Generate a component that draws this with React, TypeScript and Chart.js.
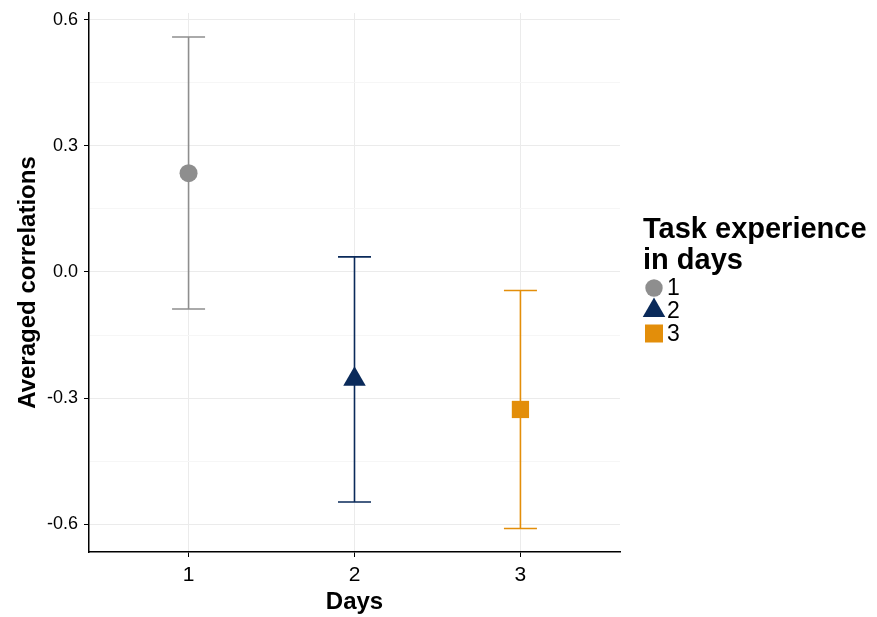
import React, { useEffect, useRef } from "react";
import { Chart, registerables } from "chart.js";

Chart.register(...registerables);

const DAYS = [1, 2, 3];
const DAY_LABELS = ["1", "2", "3"];
const MEANS = [0.235, -0.255, -0.327];
const LOWER = [-0.088, -0.547, -0.61];
const UPPER = [0.559, 0.036, -0.044];
const COLORS = ["#8E8E8E", "#0A2A5A", "#E38E0A"];
const SHAPES = ["circle", "triangle", "rect"];
const RADII = [9, 13, 12.2];
const Y_MAJOR = [-0.6, -0.3, 0, 0.3, 0.6];
const Y_MINOR = [-0.45, -0.15, 0.15, 0.45];
const X_TICKS = [1, 2, 3];
const LEGEND_TITLE = ["Task experience", "in days"];

const FONT = "'Liberation Sans', Arial, Helvetica, sans-serif";

const isMajor = (v: number) => Y_MAJOR.some((m) => Math.abs(m - v) < 1e-9);

const errorBarPlugin = {
  id: "errorBars",
  beforeDatasetsDraw(chart: any) {
    const { ctx, scales } = chart;
    const xs = scales.x;
    const ys = scales.y;
    ctx.save();
    DAYS.forEach((d, i) => {
      const x = xs.getPixelForValue(d);
      const yl = ys.getPixelForValue(LOWER[i]);
      const yu = ys.getPixelForValue(UPPER[i]);
      const half = 16.5;
      ctx.strokeStyle = COLORS[i];
      ctx.lineWidth = 1.6;
      ctx.beginPath();
      ctx.moveTo(x, yl);
      ctx.lineTo(x, yu);
      ctx.moveTo(x - half, yl);
      ctx.lineTo(x + half, yl);
      ctx.moveTo(x - half, yu);
      ctx.lineTo(x + half, yu);
      ctx.stroke();
    });
    ctx.restore();
  },
};

const legendPlugin = {
  id: "ggLegend",
  afterDraw(chart: any) {
    const { ctx } = chart;
    ctx.save();
    ctx.fillStyle = "#000";
    ctx.textAlign = "left";
    ctx.textBaseline = "alphabetic";
    ctx.font = `bold 29px ${FONT}`;
    ctx.fillText(LEGEND_TITLE[0], 643, 238);
    ctx.fillText(LEGEND_TITLE[1], 643, 269);
    const rows = [288, 310.5, 333.5];
    DAY_LABELS.forEach((lab, i) => {
      const cx = 654;
      const cy = rows[i];
      ctx.fillStyle = COLORS[i];
      ctx.beginPath();
      if (SHAPES[i] === "circle") {
        ctx.arc(cx, cy, 8.7, 0, Math.PI * 2);
      } else if (SHAPES[i] === "triangle") {
        const r = 13;
        ctx.moveTo(cx, cy - r);
        ctx.lineTo(cx + (r * Math.sqrt(3)) / 2, cy + r / 2);
        ctx.lineTo(cx - (r * Math.sqrt(3)) / 2, cy + r / 2);
        ctx.closePath();
      } else {
        const s = 9;
        ctx.rect(cx - s, cy - s, 2 * s, 2 * s);
      }
      ctx.fill();
      ctx.fillStyle = "#000";
      ctx.font = `23px ${FONT}`;
      ctx.textBaseline = "middle";
      ctx.fillText(lab, 667, cy + 1);
    });
    ctx.restore();
  },
};

export default function App() {
  const ref = useRef<HTMLCanvasElement | null>(null);
  useEffect(() => {
    if (!ref.current) return;
    const datasets = DAYS.map((d, i) => ({
      label: DAY_LABELS[i],
      data: [{ x: d, y: MEANS[i] }],
      showLine: false,
      pointStyle: SHAPES[i],
      pointRadius: RADII[i],
      pointHoverRadius: RADII[i],
      backgroundColor: COLORS[i],
      borderColor: COLORS[i],
      borderWidth: 0,
    }));
    const chart = new Chart(ref.current, {
      type: "scatter",
      data: { datasets },
      plugins: [errorBarPlugin, legendPlugin],
      options: {
        animation: false,
        responsive: false,
        devicePixelRatio: 1,
        layout: { padding: { top: 11, right: 257, left: 0, bottom: 0 } },
        plugins: { legend: { display: false }, tooltip: { enabled: false } },
        scales: {
          x: {
            type: "linear",
            min: 0.4,
            max: 3.6,
            afterBuildTicks: (s: any) => {
              s.ticks = X_TICKS.map((v) => ({ value: v }));
            },
            afterFit: (s: any) => {
              s.height = 65;
              s.paddingLeft = 0;
              s.paddingRight = 0;
            },
            ticks: {
              callback: (v: any) => String(v),
              color: "#000",
              font: { family: FONT, size: 21 },
              padding: 6,
              maxRotation: 0,
            },
            grid: {
              color: "#EBEBEB",
              lineWidth: 1,
              tickColor: "#000",
              tickLength: 5,
              drawTicks: true,
            },
            border: { display: true, color: "#000", width: 1.5 },
            title: {
              display: true,
              text: "Days",
              color: "#000",
              font: { family: FONT, size: 24, weight: "bold" },
              padding: { top: 0, bottom: 0 },
            },
          },
          y: {
            type: "linear",
            min: -0.666,
            max: 0.616,
            afterBuildTicks: (s: any) => {
              s.ticks = [...Y_MAJOR, ...Y_MINOR]
                .sort((a, b) => a - b)
                .map((v) => ({ value: v }));
            },
            afterFit: (s: any) => {
              s.width = 89;
              s.paddingTop = 0;
              s.paddingBottom = 0;
            },
            ticks: {
              callback: (v: any) => (isMajor(v) ? Number(v).toFixed(1) : ""),
              color: "#000",
              font: { family: FONT, size: 18 },
              padding: 6,
            },
            grid: {
              color: (c: any) => (isMajor(c.tick.value) ? "#EBEBEB" : "#F6F6F6"),
              lineWidth: 1,
              tickColor: (c: any) => (isMajor(c.tick.value) ? "#000" : "rgba(0,0,0,0)"),
              tickLength: 5,
            },
            border: { display: true, color: "#000", width: 1.5 },
            title: {
              display: true,
              text: "Averaged correlations",
              color: "#000",
              font: { family: FONT, size: 24, weight: "bold" },
              padding: { top: 14, bottom: 0 },
            },
          },
        },
      } as any,
    });
    return () => chart.destroy();
  }, []);
  return (
    <div style={{ position: "fixed", left: 0, top: 0, width: 877, height: 617, background: "#fff" }}>
      <canvas ref={ref} width={877} height={617} style={{ width: 877, height: 617 }} />
    </div>
  );
}
